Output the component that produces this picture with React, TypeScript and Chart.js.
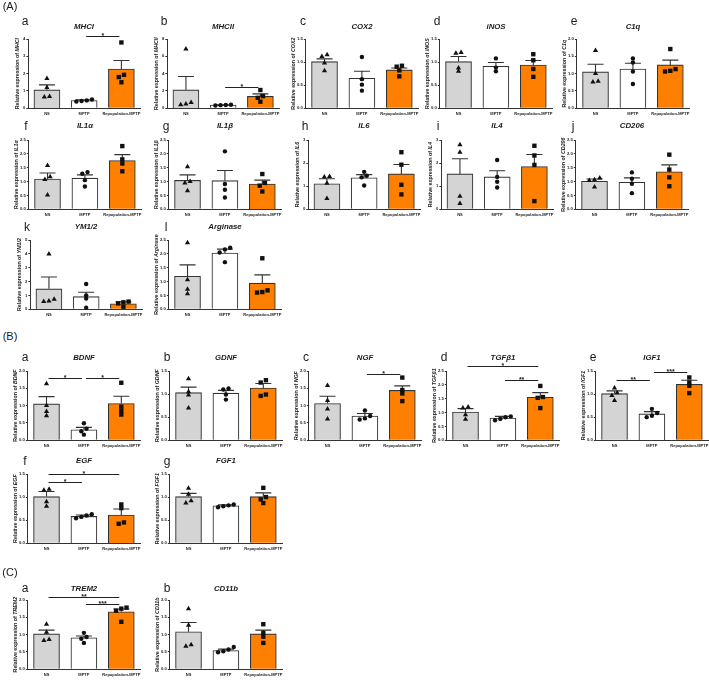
import React, { useEffect, useRef } from "react";
import { Chart, registerables } from "chart.js";
Chart.register(...registerables);

// ---------- categories ----------
const GROUPS = ["NS", "MPTP", "Repopulation-MPTP"];

// ---------- data (mean, SEM, individual points [NS, MPTP, Repop]) ----------
const MHCI_MEAN = [1.06, 0.44, 2.26];
const MHCI_SEM = [0.29, 0.05, 0.5];
const MHCI_PTS = [[1.72, 1.2, 0.68, 0.65], [0.5, 0.45, 0.42, 0.39], [3.8, 1.93, 1.8, 1.5]];
const MHCI_SIG = [[1, 2, 4.15, "*"]];

const MHCII_MEAN = [2.12, 0.36, 1.36];
const MHCII_SEM = [1.55, 0.03, 0.3];
const MHCII_PTS = [[6.83, 0.66, 0.5, 0.4], [0.4, 0.37, 0.35, 0.32], [2.1, 1.4, 1.2, 0.75]];
const MHCII_SIG = [[1, 2, 2.43, "*"]];

const COX2_MEAN = [1.01, 0.65, 0.83];
const COX2_SEM = [0.06, 0.15, 0.04];
const COX2_PTS = [[1.16, 1.12, 0.98, 0.81], [1.11, 0.63, 0.51, 0.38], [0.92, 0.9, 0.82, 0.69]];

const INOS_MEAN = [1.01, 0.91, 0.935];
const INOS_SEM = [0.11, 0.08, 0.1];
const INOS_PTS = [[1.21, 1.19, 0.87, 0.8], [1.08, 0.88, 0.8], [1.17, 1.04, 0.85, 0.68]];

const C1Q_MEAN = [1.05, 1.13, 1.25];
const C1Q_SEM = [0.22, 0.17, 0.14];
const C1Q_PTS = [[1.67, 1.0, 0.78, 0.76], [1.44, 1.32, 1.06, 0.7], [1.71, 1.13, 1.08, 1.06]];

const IL1A_MEAN = [1.09, 1.12, 1.76];
const IL1A_SEM = [0.22, 0.12, 0.21];
const IL1A_PTS = [[1.58, 1.17, 1.07, 0.51], [1.34, 1.28, 1.05, 0.82], [2.28, 1.8, 1.65, 1.37]];

const IL1B_MEAN = [1.04, 1.03, 0.91];
const IL1B_SEM = [0.2, 0.37, 0.14];
const IL1B_PTS = [[1.53, 1.0, 0.95, 0.67], [2.09, 0.91, 0.7, 0.42], [1.27, 0.95, 0.85, 0.64]];

const IL6_MEAN = [1.1, 1.36, 1.53];
const IL6_SEM = [0.22, 0.14, 0.41];
const IL6_PTS = [[1.42, 1.4, 1.12, 0.46], [1.62, 1.45, 1.38, 1.03], [2.47, 1.93, 1.06, 0.64]];

const IL4_MEAN = [1.53, 1.4, 1.85];
const IL4_SEM = [0.66, 0.27, 0.52];
const IL4_PTS = [[2.79, 2.47, 0.56, 0.25], [2.13, 1.4, 1.19, 0.94], [2.75, 2.33, 1.92, 0.35]];

const CD206_MEAN = [1.01, 0.97, 1.35];
const CD206_SEM = [0.08, 0.16, 0.25];
const CD206_PTS = [[1.13, 1.06, 1.04, 0.8], [1.33, 1.1, 0.92, 0.58], [1.97, 1.43, 1.15, 0.83]];

const YM_MEAN = [1.47, 0.91, 0.39];
const YM_SEM = [0.86, 0.32, 0.14];
const YM_PTS = [[3.98, 0.72, 0.6, 0.55], [1.82, 1.0, 0.77, 0.11], [0.55, 0.5, 0.42, 0.18]];

const ARG_MEAN = [1.19, 2.03, 0.94];
const ARG_SEM = [0.41, 0.14, 0.3];
const ARG_PTS = [[2.4, 1.06, 0.72, 0.56], [2.22, 2.16, 2.05, 1.7], [1.84, 0.68, 0.62, 0.6]];

const BDNF_MEAN = [1.05, 0.3, 1.06];
const BDNF_SEM = [0.21, 0.07, 0.21];
const BDNF_PTS = [[1.63, 1.0, 0.83, 0.71], [0.49, 0.33, 0.26, 0.16], [1.66, 0.97, 0.85, 0.74]];
const BDNF_SIG = [[0, 1, 1.79, "*"], [1, 2, 1.79, "*"]];

const GDNF_MEAN = [1.03, 1.02, 1.13];
const GDNF_SEM = [0.12, 0.06, 0.1];
const GDNF_PTS = [[1.33, 1.05, 0.98, 0.7], [1.12, 1.1, 0.99, 0.88], [1.3, 1.25, 0.99, 0.96]];

const NGF_MEAN = [1.06, 0.7, 1.44];
const NGF_SEM = [0.21, 0.07, 0.13];
const NGF_PTS = [[1.58, 1.15, 0.9, 0.61], [0.86, 0.7, 0.63, 0.6], [1.81, 1.45, 1.35, 1.13]];
const NGF_SIG = [[1, 2, 1.92, "*"]];

const TGF_MEAN = [1.02, 0.8, 1.55];
const TGF_SEM = [0.12, 0.06, 0.17];
const TGF_PTS = [[1.2, 1.16, 0.92, 0.76], [0.86, 0.83, 0.77, 0.72], [1.96, 1.56, 1.53, 1.16]];
const TGF_SIG = [[0, 2, 2.68, "*"], [1, 2, 2.17, "**"]];

const IGF1_MEAN = [1.01, 0.57, 1.21];
const IGF1_SEM = [0.06, 0.05, 0.09];
const IGF1_PTS = [[1.13, 1.03, 0.97, 0.86], [0.68, 0.59, 0.53, 0.5], [1.36, 1.25, 1.18, 1.02]];
const IGF1_SIG = [[0, 1, 1.3, "**"], [1, 2, 1.47, "***"]];

const EGF_MEAN = [1.01, 0.58, 0.61];
const EGF_SEM = [0.11, 0.03, 0.13];
const EGF_PTS = [[1.17, 1.15, 0.9, 0.8], [0.63, 0.6, 0.57, 0.54], [0.84, 0.76, 0.45, 0.42]];
const EGF_SIG = [[0, 1, 1.32, "*"], [0, 2, 1.5, "*"]];

const FGF1_MEAN = [1.01, 0.81, 1.01];
const FGF1_SEM = [0.07, 0.02, 0.08];
const FGF1_PTS = [[1.19, 1.06, 0.92, 0.87], [0.84, 0.82, 0.8, 0.78], [1.2, 1.0, 0.95, 0.87]];

const TREM2_MEAN = [1.02, 0.91, 1.66];
const TREM2_SEM = [0.11, 0.05, 0.08];
const TREM2_PTS = [[1.3, 1.07, 0.86, 0.83], [1.05, 0.93, 0.88, 0.76], [1.78, 1.75, 1.69, 1.37]];
const TREM2_SIG = [[0, 2, 2.09, "**"], [1, 2, 1.88, "***"]];

const CD11B_MEAN = [1.08, 0.54, 1.02];
const CD11B_SEM = [0.27, 0.04, 0.11];
const CD11B_PTS = [[1.75, 1.27, 0.71, 0.66], [0.64, 0.57, 0.52, 0.49], [1.3, 1.05, 0.94, 0.76]];

// ---------- styling / layout ----------
const FONT = "'Liberation Sans', Arial, Helvetica, sans-serif";
const FILLS = ["#d4d4d4", "#ffffff", "#ff7f00"];
const EDGE = "#333333";
const PAD_T = 22;
const PW = 112;
const PH = 69;

type Row = { T: number; letterY: number; titleY: number };
const RA1: Row = { T: 39, letterY: 21, titleY: 27 };
const RA2: Row = { T: 140, letterY: 126, titleY: 126 };
const RA3: Row = { T: 240, letterY: 227, titleY: 227 };
const RB1: Row = { T: 371, letterY: 357, titleY: 358 };
const RB2: Row = { T: 474, letterY: 461, titleY: 461 };
const RC: Row = { T: 600, letterY: 588, titleY: 589 };

type Spec = {
  letter: string; gene: string; L: number; row: Row; yMax: number; yStep: number;
  mean: number[]; sem: number[]; pts: number[][]; sig?: any[][];
};

const PANELS: Spec[] = [
  { letter: "a", gene: "MHCI", L: 28, row: RA1, yMax: 4, yStep: 1, mean: MHCI_MEAN, sem: MHCI_SEM, pts: MHCI_PTS, sig: MHCI_SIG },
  { letter: "b", gene: "MHCII", L: 167, row: RA1, yMax: 8, yStep: 2, mean: MHCII_MEAN, sem: MHCII_SEM, pts: MHCII_PTS, sig: MHCII_SIG },
  { letter: "c", gene: "COX2", L: 306, row: RA1, yMax: 1.5, yStep: 0.5, mean: COX2_MEAN, sem: COX2_SEM, pts: COX2_PTS },
  { letter: "d", gene: "iNOS", L: 440, row: RA1, yMax: 1.5, yStep: 0.5, mean: INOS_MEAN, sem: INOS_SEM, pts: INOS_PTS },
  { letter: "e", gene: "C1q", L: 577, row: RA1, yMax: 2, yStep: 0.5, mean: C1Q_MEAN, sem: C1Q_SEM, pts: C1Q_PTS },
  { letter: "f", gene: "IL1α", L: 29, row: RA2, yMax: 2.5, yStep: 0.5, mean: IL1A_MEAN, sem: IL1A_SEM, pts: IL1A_PTS },
  { letter: "g", gene: "IL1β", L: 169, row: RA2, yMax: 2.5, yStep: 0.5, mean: IL1B_MEAN, sem: IL1B_SEM, pts: IL1B_PTS },
  { letter: "h", gene: "IL6", L: 308, row: RA2, yMax: 3, yStep: 1, mean: IL6_MEAN, sem: IL6_SEM, pts: IL6_PTS },
  { letter: "i", gene: "IL4", L: 441, row: RA2, yMax: 3, yStep: 1, mean: IL4_MEAN, sem: IL4_SEM, pts: IL4_PTS },
  { letter: "j", gene: "CD206", L: 576, row: RA2, yMax: 2.5, yStep: 0.5, mean: CD206_MEAN, sem: CD206_SEM, pts: CD206_PTS },
  { letter: "k", gene: "YM1/2", L: 30, row: RA3, yMax: 5, yStep: 1, mean: YM_MEAN, sem: YM_SEM, pts: YM_PTS },
  { letter: "l", gene: "Arginase", L: 169, row: RA3, yMax: 2.5, yStep: 0.5, mean: ARG_MEAN, sem: ARG_SEM, pts: ARG_PTS },
  { letter: "a", gene: "BDNF", L: 28, row: RB1, yMax: 2, yStep: 0.5, mean: BDNF_MEAN, sem: BDNF_SEM, pts: BDNF_PTS, sig: BDNF_SIG },
  { letter: "b", gene: "GDNF", L: 170, row: RB1, yMax: 1.5, yStep: 0.5, mean: GDNF_MEAN, sem: GDNF_SEM, pts: GDNF_PTS },
  { letter: "c", gene: "NGF", L: 309, row: RB1, yMax: 2, yStep: 0.5, mean: NGF_MEAN, sem: NGF_SEM, pts: NGF_PTS, sig: NGF_SIG },
  { letter: "d", gene: "TGFβ1", L: 447, row: RB1, yMax: 2.5, yStep: 0.5, mean: TGF_MEAN, sem: TGF_SEM, pts: TGF_PTS, sig: TGF_SIG },
  { letter: "e", gene: "IGF1", L: 596, row: RB1, yMax: 1.5, yStep: 0.5, mean: IGF1_MEAN, sem: IGF1_SEM, pts: IGF1_PTS, sig: IGF1_SIG },
  { letter: "f", gene: "EGF", L: 28, row: RB2, yMax: 1.5, yStep: 0.5, mean: EGF_MEAN, sem: EGF_SEM, pts: EGF_PTS, sig: EGF_SIG },
  { letter: "g", gene: "FGF1", L: 170, row: RB2, yMax: 1.5, yStep: 0.5, mean: FGF1_MEAN, sem: FGF1_SEM, pts: FGF1_PTS },
  { letter: "a", gene: "TREM2", L: 28, row: RC, yMax: 2, yStep: 0.5, mean: TREM2_MEAN, sem: TREM2_SEM, pts: TREM2_PTS, sig: TREM2_SIG },
  { letter: "b", gene: "CD11b", L: 170, row: RC, yMax: 2, yStep: 0.5, mean: CD11B_MEAN, sem: CD11B_SEM, pts: CD11B_PTS },
];

const SECTIONS = [
  { text: "(A)", y: 6 },
  { text: "(B)", y: 336 },
  { text: "(C)", y: 572 },
];

// spread overlapping points sideways (like a scatter-dot plot)
function spread(vals: number[], range: number): number[] {
  const idx = vals.map((_, i) => i).sort((a, b) => vals[a] - vals[b]);
  const off = new Array(vals.length).fill(0);
  let start = 0;
  for (let k = 1; k <= idx.length; k++) {
    if (k === idx.length || vals[idx[k]] - vals[idx[k - 1]] > range * 0.045) {
      const n = k - start;
      for (let j = 0; j < n; j++) off[idx[start + j]] = (j - (n - 1) / 2) * 0.14;
      start = k;
    }
  }
  return off;
}

function Panel({ s }: { s: Spec }) {
  const ref = useRef<HTMLCanvasElement>(null);
  useEffect(() => {
    const cv = ref.current!;
    const styles = ["triangle", "circle", "rect"];
    const radii = [3, 2.2, 3.1];
    const titleOff = s.yStep < 1 ? 12.5 : 10.5;
    const errorBars = {
      id: "errorBars",
      afterDatasetDraw(chart: any, args: any) {
        if (args.index !== 0) return;
        const { ctx } = chart;
        const xs = chart.scales.x, ys = chart.scales.y;
        ctx.save();
        ctx.strokeStyle = EDGE;
        ctx.lineWidth = 1.1;
        s.mean.forEach((m, i) => {
          const x = xs.getPixelForValue(i);
          const y0 = ys.getPixelForValue(m);
          const y1 = ys.getPixelForValue(m + s.sem[i]);
          ctx.beginPath();
          ctx.moveTo(x, y0);
          ctx.lineTo(x, y1);
          ctx.moveTo(x - 8, y1);
          ctx.lineTo(x + 8, y1);
          ctx.stroke();
        });
        ctx.restore();
      },
    };
    const sigPlugin = {
      id: "sig",
      afterDraw(chart: any) {
        const { ctx, chartArea: a } = chart;
        const xs = chart.scales.x, ys = chart.scales.y;
        // y-axis title: "Relative expression of " + italic gene
        ctx.save();
        ctx.translate(a.left - titleOff, (a.top + a.bottom) / 2);
        ctx.rotate(-Math.PI / 2);
        ctx.fillStyle = "#222";
        ctx.textBaseline = "middle";
        ctx.textAlign = "left";
        const f1 = `bold 5.3px ${FONT}`;
        const f2 = `italic bold 5.3px ${FONT}`;
        const t1 = "Relative expression of ";
        ctx.font = f1;
        const w1 = ctx.measureText(t1).width;
        ctx.font = f2;
        const w2 = ctx.measureText(s.gene).width;
        const x0 = -(w1 + w2) / 2;
        ctx.font = f1;
        ctx.fillText(t1, x0, 0);
        ctx.font = f2;
        ctx.fillText(s.gene, x0 + w1, 0);
        ctx.restore();
        if (!s.sig) return;
        ctx.save();
        ctx.strokeStyle = "#222";
        ctx.fillStyle = "#222";
        ctx.lineWidth = 1;
        ctx.font = `bold 7px ${FONT}`;
        ctx.textAlign = "center";
        ctx.textBaseline = "alphabetic";
        s.sig!.forEach(([p, q, v, lab]) => {
          const x1 = xs.getPixelForValue(p) + 2;
          const x2 = xs.getPixelForValue(q) - 2;
          const y = Math.round(ys.getPixelForValue(v)) + 0.5;
          ctx.beginPath();
          ctx.moveTo(x1, y);
          ctx.lineTo(x2, y);
          ctx.stroke();
          ctx.fillText(lab, (x1 + x2) / 2, y + 1.5);
        });
        ctx.restore();
      },
    };
    const chart = new Chart(cv, {
      type: "bar",
      data: {
        datasets: [
          {
            type: "bar",
            data: s.mean.map((y, i) => ({ x: i, y })),
            backgroundColor: FILLS,
            borderColor: EDGE,
            borderWidth: 1.1,
            barThickness: 26,
            order: 2,
          } as any,
          ...s.pts.map((arr, g) => {
            const off = spread(arr, s.yMax);
            return {
              type: "scatter",
              data: arr.map((y, k) => ({ x: g + off[k], y })),
              pointStyle: styles[g],
              pointRadius: radii[g],
              pointBackgroundColor: "#111",
              pointBorderColor: "#111",
              pointBorderWidth: 0,
              order: 1,
              clip: false,
            } as any;
          }),
        ],
      },
      options: {
        responsive: false,
        maintainAspectRatio: false,
        animation: false,
        events: [],
        layout: { autoPadding: false, padding: { top: PAD_T, right: 8, left: 20, bottom: 0 } },
        plugins: { legend: { display: false }, tooltip: { enabled: false }, title: { display: false } },
        scales: {
          x: {
            type: "linear",
            offset: false,
            min: -0.5,
            max: 2.5,
            afterBuildTicks: (sc: any) => {
              sc.ticks = [0, 1, 2].map((v) => ({ value: v }));
            },
            grid: { display: true, drawOnChartArea: false, drawTicks: true, tickLength: 2, color: "rgba(0,0,0,0)" },
            border: { display: true, color: EDGE, width: 1 },
            ticks: {
              autoSkip: false,
              maxRotation: 0,
              minRotation: 0,
              padding: 1,
              color: "#222",
              font: { family: FONT, size: 4, weight: "bold" },
              callback: (v: any) => GROUPS[v] ?? "",
            },
          },
          y: {
            type: "linear",
            min: 0,
            max: s.yMax,
            grid: { display: true, drawOnChartArea: false, drawTicks: true, tickLength: 2, color: EDGE },
            border: { display: true, color: EDGE, width: 1 },
            ticks: {
              stepSize: s.yStep,
              padding: 1,
              color: "#222",
              font: { family: FONT, size: 4.2, weight: "bold" },
              callback: (v: any) => (s.yStep < 1 ? Number(v).toFixed(1) : String(v)),
            },
            title: { display: false },
          },
        },
      } as any,
      plugins: [errorBars, sigPlugin],
    });
    // make the plot area exactly PW x PH, then place it at (L, T)
    for (let it = 0; it < 4; it++) {
      const a = chart.chartArea;
      const dw = PW - (a.right - a.left);
      const dh = PH - (a.bottom - a.top);
      if (Math.abs(dw) < 0.01 && Math.abs(dh) < 0.01) break;
      chart.resize(Math.round(chart.width + dw), Math.round(chart.height + dh));
    }
    const a = chart.chartArea;
    cv.style.position = "absolute";
    cv.style.left = `${Math.round(s.L - a.left)}px`;
    cv.style.top = `${Math.round(s.row.T - a.top)}px`;
    return () => chart.destroy();
  }, [s]);
  return (
    <canvas
      ref={ref}
      width={170}
      height={104}
      style={{ position: "absolute", left: s.L - 40, top: s.row.T - PAD_T, width: 170, height: 104 }}
    />
  );
}

function Label({ x, y, text, font }: { x: number; y: number; text: string; font: string }) {
  return (
    <div
      style={{
        position: "absolute",
        left: x,
        top: y,
        transform: "translate(-50%, -50%)",
        font,
        lineHeight: 1,
        whiteSpace: "nowrap",
        color: "#1a1a1a",
      }}
    >
      {text}
    </div>
  );
}

export default function App() {
  return (
    <div
      style={{
        position: "absolute",
        left: 0,
        top: 0,
        width: 709,
        height: 680,
        overflow: "hidden",
        background: "#ffffff",
      }}
    >
      {PANELS.map((p, i) => (
        <Panel key={i} s={p} />
      ))}
      {PANELS.map((p, i) => (
        <React.Fragment key={"t" + i}>
          <Label x={p.L - 3} y={p.row.letterY} text={p.letter} font={`12px ${FONT}`} />
          <Label x={p.L + PW / 2} y={p.row.titleY} text={p.gene} font={`italic bold 7.8px ${FONT}`} />
        </React.Fragment>
      ))}
      {SECTIONS.map((s, i) => (
        <Label key={"s" + i} x={10} y={s.y} text={s.text} font={`11px ${FONT}`} />
      ))}
    </div>
  );
}
